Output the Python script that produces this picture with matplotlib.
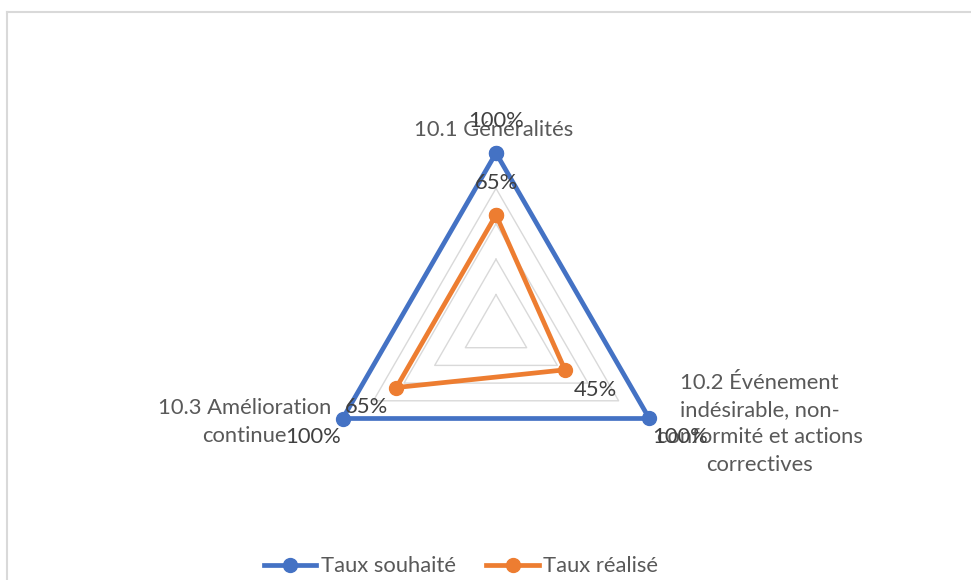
import numpy as np
import matplotlib.pyplot as plt
from matplotlib.lines import Line2D

# Radar data
categories = ["10.1 Généralités",
              "10.2 Événement\nindésirable, non-\nconformité et actions\ncorrectives",
              "10.3 Amélioration\ncontinue"]
taux_souhaite = [1.00, 1.00, 1.00]
taux_realise = [0.65, 0.45, 0.65]
series_names = ["Taux souhaité", "Taux réalisé"]
grid_levels = [0.2, 0.4, 0.6, 0.8, 1.0]

blue = "#4472C4"
orange = "#ED7D31"
grey_txt = "#595959"
grid_col = "#D9D9D9"

plt.rcParams['font.family'] = ['Lato', 'DejaVu Sans']
fs = 15.8

W, H = 971, 580
fig = plt.figure(figsize=(W / 100, H / 100), dpi=100)
ax = fig.add_axes([0, 0, 1, 1])

# center at pixel (496, 330), radius 177 px
scale = 177.0
cx, cy = 496, 330
ax.set_xlim(-cx / scale, (W - cx) / scale)
ax.set_ylim(-(H - cy) / scale, cy / scale)
ax.axis("off")

angles = np.array([0, 120, 240]) * np.pi / 180


def to_xy(vals):
    v = np.asarray(vals)
    x = v * np.sin(angles)
    y = v * np.cos(angles)
    return np.append(x, x[0]), np.append(y, y[0])


# grid rings
for lev in grid_levels:
    gx, gy = to_xy([lev] * 3)
    ax.plot(gx, gy, color=grid_col, lw=1.0, zorder=1)

# series
bx, by = to_xy(taux_souhaite)
ax.plot(bx, by, color=blue, lw=3.4, marker="o", ms=10, zorder=3,
        solid_joinstyle="miter")
ox, oy = to_xy(taux_realise)
ax.plot(ox, oy, color=orange, lw=3.4, marker="o", ms=10, zorder=4,
        solid_joinstyle="miter")

# category labels
cat_pos = [(-0.011, 1.13), (1.49, -0.53), (-1.421, -0.52)]
for lab, (tx, ty) in zip(categories, cat_pos):
    ax.text(tx, ty, lab, ha="center", va="center", fontsize=fs,
            color=grey_txt, linespacing=1.46, zorder=5)

# data labels
blue_pos = [(0.0, 1.18), (1.04, -0.605), (-1.034, -0.605)]
orange_pos = [(0.0, 0.83), (0.559, -0.339), (-0.729, -0.435)]
for v, (tx, ty) in zip(taux_souhaite, blue_pos):
    ax.text(tx, ty, f"{v * 100:.0f}%", ha="center", va="center",
            fontsize=fs, color="#404040", zorder=6)
for v, (tx, ty) in zip(taux_realise, orange_pos):
    ax.text(tx, ty, f"{v * 100:.0f}%", ha="center", va="center",
            fontsize=fs, color="#404040", zorder=6)

# legend
handles = [Line2D([], [], color=blue, lw=3.4, marker="o", ms=10),
           Line2D([], [], color=orange, lw=3.4, marker="o", ms=10)]
leg = fig.legend(handles, series_names, loc="lower center",
                 bbox_to_anchor=(461 / W, -0.028), ncol=2, frameon=False,
                 fontsize=fs, handlelength=2.4, handletextpad=0.2,
                 columnspacing=1.4, labelcolor=grey_txt)

# chart border (left and top visible)
fig.add_artist(Line2D([7 / W, 7 / W], [0, 1 - 12 / H], color=grid_col,
                      lw=1.5, transform=fig.transFigure))
fig.add_artist(Line2D([7 / W, 1], [1 - 12 / H, 1 - 12 / H], color=grid_col,
                      lw=1.5, transform=fig.transFigure))

fig.savefig("out.png", dpi=100, facecolor="white")
